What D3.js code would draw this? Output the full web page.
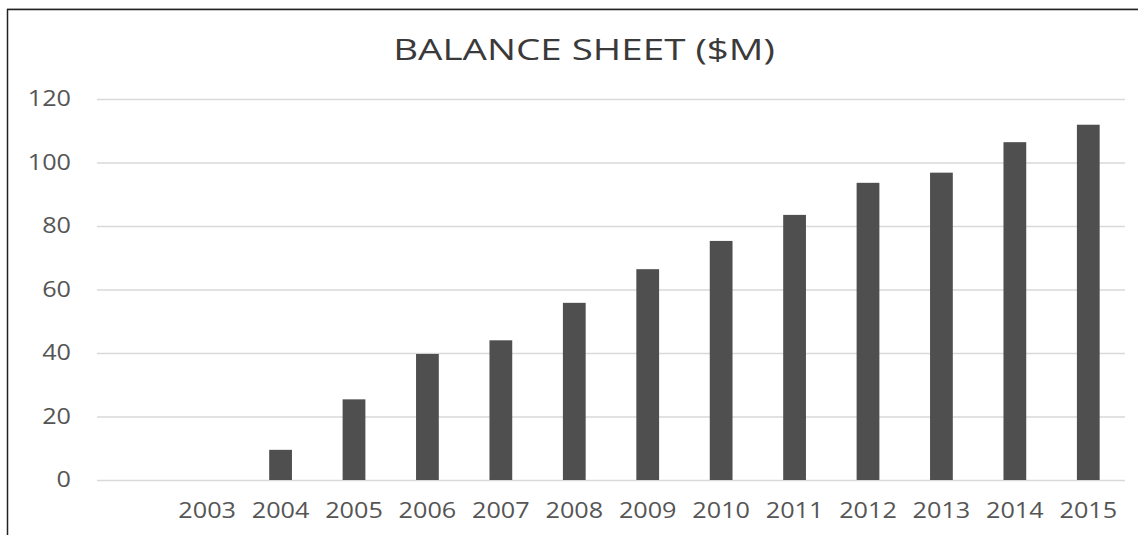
<!DOCTYPE html>
<html>
<head>
<meta charset="utf-8">
<script src="https://cdn.jsdelivr.net/npm/d3@7"></script>
<style>
  html, body { margin: 0; padding: 0; background: #fff; }
  svg { display: block; font-family: "Open Sans", sans-serif; }
</style>
</head>
<body>
<div class="chart"></div>
<script>
// data (first slot is an empty category)
var years = ["", "2003", "2004", "2005", "2006", "2007", "2008", "2009", "2010", "2011", "2012", "2013", "2014", "2015"];
var balance = [null, 0, 9.5, 25.4, 39.7, 44.0, 55.8, 66.4, 75.3, 83.5, 93.6, 96.8, 106.4, 111.9];
var yTicks = [0, 20, 40, 60, 80, 100, 120];
var title = "BALANCE SHEET ($M)";

var W = 1138, H = 535;
var STRETCH = 1.2; // text in the source is widened horizontally

var plot = {left: 97, right: 1125, top: 99, bottom: 480};

var svg = d3.select(".chart").append("svg")
    .attr("width", W)
    .attr("height", H);

// frame (top and left edges visible)
svg.append("line")
    .attr("x1", 7).attr("x2", W).attr("y1", 8.5).attr("y2", 8.5)
    .attr("stroke", "#d0d0d0").attr("stroke-width", 1);
svg.append("line")
    .attr("x1", 7).attr("x2", W).attr("y1", 9.5).attr("y2", 9.5)
    .attr("stroke", "#222").attr("stroke-width", 1.5);
svg.append("line")
    .attr("x1", 7.5).attr("x2", 7.5).attr("y1", 9).attr("y2", H)
    .attr("stroke", "#222").attr("stroke-width", 1.5);

var x = d3.scaleBand()
    .domain(years)
    .range([plot.left, plot.right])
    .paddingInner(0.69)
    .paddingOuter(0.345);

var y = d3.scaleLinear()
    .domain([0, 120])
    .range([plot.bottom, plot.top]);

// gridlines
var grid = svg.append("g")
    .attr("transform", "translate(" + plot.left + ",0)")
    .call(d3.axisLeft(y).tickValues(yTicks).tickSize(-(plot.right - plot.left)).tickFormat(""));
grid.select(".domain").remove();
grid.selectAll("line").attr("stroke", "#d9d9d9").attr("stroke-width", 1.5);

// y labels
var yAxis = svg.append("g")
    .attr("transform", "translate(71,0)")
    .call(d3.axisLeft(y).tickValues(yTicks).tickSize(0).tickPadding(0));
yAxis.select(".domain").remove();
yAxis.selectAll("text")
    .attr("x", 0)
    .attr("font-size", 21)
    .attr("font-family", "Open Sans")
    .attr("fill", "#555")
    .attr("transform", "scale(" + STRETCH + ",1)");

// bars
svg.append("g").selectAll("rect")
    .data(years.map(function (d, i) { return {year: d, value: balance[i]}; })
        .filter(function (d) { return d.value; }))
    .enter().append("rect")
    .attr("x", function (d) { return x(d.year); })
    .attr("width", x.bandwidth())
    .attr("y", function (d) { return y(d.value); })
    .attr("height", function (d) { return y(0) - y(d.value); })
    .attr("fill", "#4f4f4f");

// x labels
var xAxis = svg.append("g")
    .attr("transform", "translate(0," + plot.bottom + ")")
    .call(d3.axisBottom(x).tickSize(0));
xAxis.select(".domain").remove();
xAxis.selectAll("text")
    .attr("y", 38)
    .attr("dy", null)
    .attr("font-size", 21)
    .attr("font-family", "Open Sans")
    .attr("fill", "#555")
    .attr("transform", "scale(" + STRETCH + ",1)");

// title
svg.append("g")
    .attr("transform", "translate(584,60) scale(1.33,1)")
    .append("text")
    .attr("text-anchor", "middle")
    .attr("font-size", 29)
    .attr("fill", "#3a3a3a")
    .text(title);
</script>
</body>
</html>
